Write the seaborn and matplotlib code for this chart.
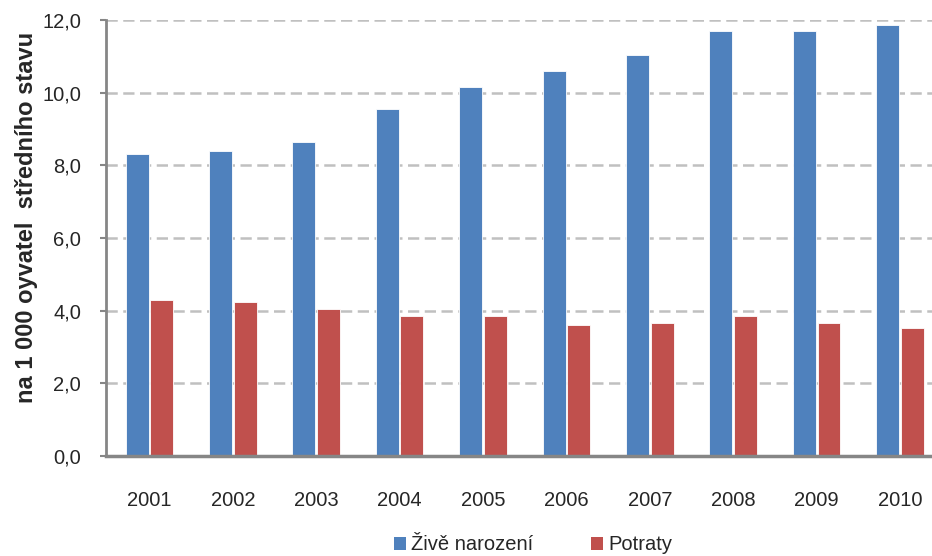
import matplotlib
matplotlib.use("Agg")
import matplotlib.pyplot as plt
import seaborn as sns
import pandas as pd
from matplotlib.patches import Patch
from matplotlib.ticker import FuncFormatter

years = ["2001", "2002", "2003", "2004", "2005", "2006", "2007", "2008", "2009", "2010"]
zive_narozeni = [8.3, 8.4, 8.65, 9.55, 10.15, 10.6, 11.05, 11.7, 11.7, 11.85]
potraty = [4.3, 4.25, 4.05, 3.85, 3.85, 3.6, 3.65, 3.85, 3.65, 3.52]
series_names = ["Živě narození", "Potraty"]
colors = ["#4F81BD", "#C0504D"]

df = pd.DataFrame({
    "rok": years * 2,
    "hodnota": zive_narozeni + potraty,
    "serie": [series_names[0]] * len(years) + [series_names[1]] * len(years),
})

sns.set_style("white")
plt.rcParams["font.family"] = ["Liberation Sans", "DejaVu Sans"]

fig = plt.figure(figsize=(9.32, 5.56), dpi=100)
ax = fig.add_axes([106 / 932, 1 - 456 / 556, 1 - 106 / 932 + 0.006, (456 - 20) / 556])

sns.barplot(data=df, x="rok", y="hodnota", hue="serie", palette=colors,
            width=0.59, gap=0.07, ax=ax, legend=False, saturation=1,
            edgecolor="#ffffff", linewidth=0.6)

ax.set_ylim(0, 12)
ax.set_xlim(-0.52, 9.45)
ax.set_yticks([0, 2, 4, 6, 8, 10, 12])
ax.yaxis.set_major_formatter(FuncFormatter(lambda v, p: f"{v:.1f}".replace(".", ",")))
ax.grid(axis="y", color="#c0c0c0", linestyle=(0, (4.5, 2.2)), linewidth=1.8)
ax.set_axisbelow(True)
for s in ["top", "right"]:
    ax.spines[s].set_visible(False)
ax.spines["left"].set_color("#868686")
ax.spines["left"].set_linewidth(2)
ax.spines["bottom"].set_color("#868686")
ax.spines["bottom"].set_linewidth(2.5)
ax.tick_params(axis="y", left=True, length=4, width=1.5, color="#868686",
               labelsize=14.5, pad=14)
ax.tick_params(axis="x", bottom=False, labelsize=14.5, pad=22)
ax.set_xlabel("")
ax.set_ylabel("")
fig.text(27 / 932, 1 - 217 / 556, "na 1 000 oyvatel  středního stavu", rotation=90,
         ha="center", va="center", fontsize=17, fontweight="bold")

handles = [Patch(facecolor=c, edgecolor="none") for c in colors]
fig.legend(handles, series_names, loc="center", bbox_to_anchor=(0.572, 0.02), ncol=2,
           frameon=False, fontsize=14.5, handlelength=0.6, handleheight=0.6,
           handletextpad=0.25, columnspacing=2.9, borderpad=0, borderaxespad=0)

fig.savefig("out.png", dpi=100)
